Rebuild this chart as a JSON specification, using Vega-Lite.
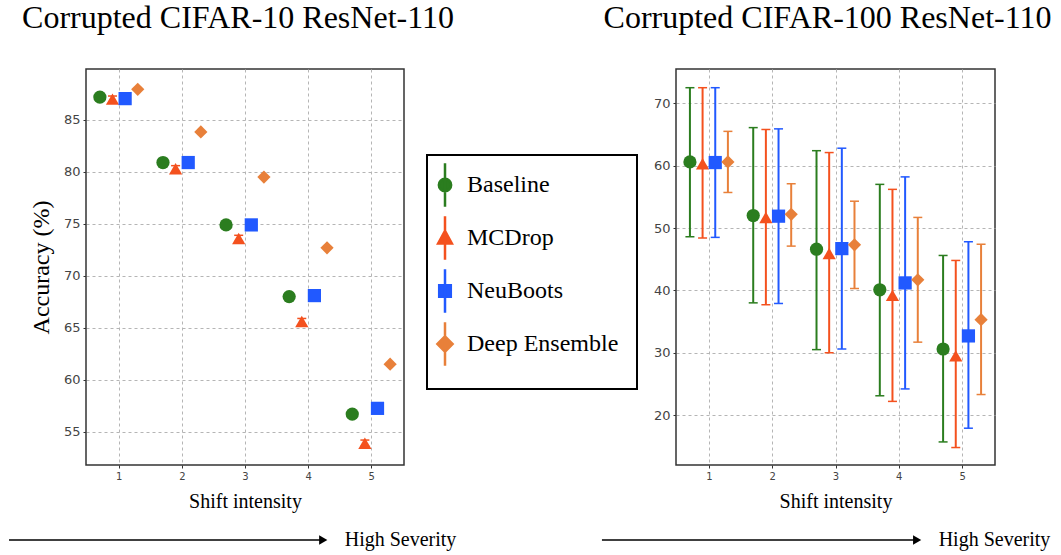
{
  "$schema": "https://vega.github.io/schema/vega-lite/v6.json",
  "autosize": {"type": "none"},
  "padding": {"left": 86, "top": 69, "right": 975, "bottom": 486},
  "background": "white",
  "bounds": "flush",
  "align": "each",
  "columns": 2,
  "spacing": {"row": 65, "column": 272},
  "config": {
    "view": {"stroke": "#333", "strokeWidth": 1.5},
    "axis": {
      "labelFont": "DejaVu Sans", "labelColor": "#444", "grid": true, "gridDash": [3, 3],
      "gridColor": "#b5b5b5", "gridWidth": 1, "domain": false, "tickColor": "#333",
      "tickSize": 3, "labelPadding": 3, "titleFont": "Liberation Serif",
      "titleFontWeight": "normal", "titleColor": "black"
    },
    "axisX": {"labelFontSize": 10, "titleFontSize": 20, "titlePadding": 10},
    "axisY": {"labelFontSize": 13, "titleFontSize": 24, "titlePadding": 10},
    "legend": {"labelFont": "Liberation Serif", "labelFontSize": 24, "labelColor": "black", "strokeColor": "black", "strokeWidth": 2},
    "title": {"font": "Liberation Serif", "fontSize": 32, "fontWeight": "normal", "color": "black", "baseline": "alphabetic", "offset": 34, "anchor": "middle"}
  },
  "concat": [
    {
      "title": {"text": "Corrupted CIFAR-10 ResNet-110", "dx": -7},
      "width": 318, "height": 396,
      "data": {"values": [
        {"method": "Baseline", "shift": 1, "pos": 0.7, "acc": 87.2, "lo": 87.2, "hi": 87.2},
        {"method": "Baseline", "shift": 2, "pos": 1.7, "acc": 80.9, "lo": 80.9, "hi": 80.9},
        {"method": "Baseline", "shift": 3, "pos": 2.7, "acc": 74.9, "lo": 74.9, "hi": 74.9},
        {"method": "Baseline", "shift": 4, "pos": 3.7, "acc": 68.0, "lo": 68.0, "hi": 68.0},
        {"method": "Baseline", "shift": 5, "pos": 4.7, "acc": 56.7, "lo": 56.7, "hi": 56.7},
        {"method": "MCDrop", "shift": 1, "pos": 0.9, "acc": 87.0, "lo": 86.7, "hi": 87.3},
        {"method": "MCDrop", "shift": 2, "pos": 1.9, "acc": 80.3, "lo": 80.0, "hi": 80.6},
        {"method": "MCDrop", "shift": 3, "pos": 2.9, "acc": 73.6, "lo": 73.3, "hi": 73.9},
        {"method": "MCDrop", "shift": 4, "pos": 3.9, "acc": 65.6, "lo": 65.3, "hi": 65.9},
        {"method": "MCDrop", "shift": 5, "pos": 4.9, "acc": 53.9, "lo": 53.6, "hi": 54.2},
        {"method": "NeuBoots", "shift": 1, "pos": 1.1, "acc": 87.05, "lo": 87.05, "hi": 87.05},
        {"method": "NeuBoots", "shift": 2, "pos": 2.1, "acc": 80.9, "lo": 80.9, "hi": 80.9},
        {"method": "NeuBoots", "shift": 3, "pos": 3.1, "acc": 74.9, "lo": 74.9, "hi": 74.9},
        {"method": "NeuBoots", "shift": 4, "pos": 4.1, "acc": 68.1, "lo": 68.1, "hi": 68.1},
        {"method": "NeuBoots", "shift": 5, "pos": 5.1, "acc": 57.25, "lo": 57.25, "hi": 57.25},
        {"method": "Deep Ensemble", "shift": 1, "pos": 1.3, "acc": 87.95, "lo": 87.95, "hi": 87.95},
        {"method": "Deep Ensemble", "shift": 2, "pos": 2.3, "acc": 83.85, "lo": 83.85, "hi": 83.85},
        {"method": "Deep Ensemble", "shift": 3, "pos": 3.3, "acc": 79.5, "lo": 79.5, "hi": 79.5},
        {"method": "Deep Ensemble", "shift": 4, "pos": 4.3, "acc": 72.7, "lo": 72.7, "hi": 72.7},
        {"method": "Deep Ensemble", "shift": 5, "pos": 5.3, "acc": 61.5, "lo": 61.5, "hi": 61.5}
      ]},
      "encoding": {
        "x": {"field": "pos", "type": "quantitative", "title": "Shift intensity",
              "scale": {"domain": [0.48, 5.52], "nice": false, "zero": false},
              "axis": {"values": [1, 2, 3, 4, 5], "format": "d"}},
        "y": {"field": "acc", "type": "quantitative", "title": "Accuracy (%)",
              "scale": {"domain": [51.8, 89.9], "nice": false, "zero": false},
              "axis": {"values": [55, 60, 65, 70, 75, 80, 85]}}
      },
      "layer": [
        {
          "transform": [{"filter": "datum.acc > 1000"}],
          "mark": {"type": "point", "opacity": 1, "strokeWidth": 2.5},
          "encoding": {
            "fill": {"field": "method", "type": "nominal",
              "scale": {"domain": ["Baseline", "MCDrop", "NeuBoots", "Deep Ensemble"], "range": ["#2b7d1f", "#f4511e", "#2159ff", "#e8803a"]},
              "legend": {"orient": "none", "legendX": 341, "legendY": 86, "title": null, "strokeColor": "black", "padding": 18, "symbolOffset": -12, "labelOffset": 10, "labelFont": "Liberation Serif", "labelFontSize": 24, "labelColor": "black", "symbolSize": 210, "symbolStrokeWidth": 2.5, "rowPadding": -1, "labelLimit": 400,
                "encode": {"legend": {"update": {"strokeWidth": {"value": 2}}}}}},
            "stroke": {"field": "method", "type": "nominal",
              "scale": {"domain": ["Baseline", "MCDrop", "NeuBoots", "Deep Ensemble"], "range": ["#2b7d1f", "#f4511e", "#2159ff", "#e8803a"]},
              "legend": {"orient": "none", "legendX": 341, "legendY": 86, "title": null, "strokeColor": "black", "padding": 18, "symbolOffset": -12, "labelOffset": 10, "labelFont": "Liberation Serif", "labelFontSize": 24, "labelColor": "black", "symbolSize": 210, "symbolStrokeWidth": 2.5, "rowPadding": -1, "labelLimit": 400,
                "encode": {"legend": {"update": {"strokeWidth": {"value": 2}}}}}},
            "shape": {"field": "method", "type": "nominal",
              "scale": {"domain": ["Baseline", "MCDrop", "NeuBoots", "Deep Ensemble"], "range": [
                "M0,-3L0,3M-0.85,0A0.85,0.85,0,1,1,0.85,0A0.85,0.85,0,1,1,-0.85,0Z",
                "M0,-3L0,3M-0.95,0.75L0.95,0.75L0,-1.0Z",
                "M0,-3L0,3M-0.8,-0.8L0.8,-0.8L0.8,0.8L-0.8,0.8Z",
                "M0,-3L0,3M0,-1.05L1.05,0L0,1.05L-1.05,0Z"]},
              "legend": {"orient": "none", "legendX": 341, "legendY": 86, "title": null, "strokeColor": "black", "padding": 18, "symbolOffset": -12, "labelOffset": 10, "labelFont": "Liberation Serif", "labelFontSize": 24, "labelColor": "black", "symbolSize": 210, "symbolStrokeWidth": 2.5, "rowPadding": -1, "labelLimit": 400,
                "encode": {"legend": {"update": {"strokeWidth": {"value": 2}}}}}}
          }
        },
        {
          "mark": {"type": "rule", "strokeWidth": 2},
          "encoding": {
            "y": {"field": "lo", "type": "quantitative"},
            "y2": {"field": "hi"},
            "color": {"field": "method", "type": "nominal", "legend": null,
              "scale": {"domain": ["Baseline", "MCDrop", "NeuBoots", "Deep Ensemble"], "range": ["#2b7d1f", "#f4511e", "#2159ff", "#e8803a"]}}
          }
        },
        {
          "mark": {"type": "tick", "orient": "horizontal", "size": 9, "thickness": 1.5, "opacity": 1},
          "encoding": {
            "y": {"field": "lo", "type": "quantitative"},
            "color": {"field": "method", "type": "nominal", "legend": null}
          }
        },
        {
          "mark": {"type": "tick", "orient": "horizontal", "size": 9, "thickness": 1.5, "opacity": 1},
          "encoding": {
            "y": {"field": "hi", "type": "quantitative"},
            "color": {"field": "method", "type": "nominal", "legend": null}
          }
        },
        {
          "mark": {"type": "point", "filled": true, "opacity": 1, "size": 175},
          "encoding": {
            "color": {"field": "method", "type": "nominal", "legend": null},
            "shape": {"field": "method", "type": "nominal", "legend": null,
              "scale": {"domain": ["Baseline", "MCDrop", "NeuBoots", "Deep Ensemble"], "range": ["circle", "triangle-up", "square", "diamond"]}}
          }
        }
      ],
      "resolve": {"scale": {"shape": "independent", "fill": "independent", "stroke": "independent"}}
    },
    {
      "title": {"text": "Corrupted CIFAR-100 ResNet-110", "dx": -8},
      "width": 319, "height": 396,
      "data": {"values": [
        {"method": "Baseline", "shift": 1, "pos": 0.7, "acc": 60.6, "lo": 48.6, "hi": 72.5},
        {"method": "Baseline", "shift": 2, "pos": 1.7, "acc": 52.0, "lo": 38.0, "hi": 66.1},
        {"method": "Baseline", "shift": 3, "pos": 2.7, "acc": 46.6, "lo": 30.5, "hi": 62.4},
        {"method": "Baseline", "shift": 4, "pos": 3.7, "acc": 40.1, "lo": 23.1, "hi": 57.0},
        {"method": "Baseline", "shift": 5, "pos": 4.7, "acc": 30.6, "lo": 15.7, "hi": 45.6},
        {"method": "MCDrop", "shift": 1, "pos": 0.9, "acc": 60.3, "lo": 48.4, "hi": 72.5},
        {"method": "MCDrop", "shift": 2, "pos": 1.9, "acc": 51.7, "lo": 37.7, "hi": 65.8},
        {"method": "MCDrop", "shift": 3, "pos": 2.9, "acc": 45.9, "lo": 30.0, "hi": 62.1},
        {"method": "MCDrop", "shift": 4, "pos": 3.9, "acc": 39.2, "lo": 22.2, "hi": 56.2},
        {"method": "MCDrop", "shift": 5, "pos": 4.9, "acc": 29.5, "lo": 14.8, "hi": 44.8},
        {"method": "NeuBoots", "shift": 1, "pos": 1.1, "acc": 60.5, "lo": 48.5, "hi": 72.5},
        {"method": "NeuBoots", "shift": 2, "pos": 2.1, "acc": 51.9, "lo": 37.9, "hi": 65.9},
        {"method": "NeuBoots", "shift": 3, "pos": 3.1, "acc": 46.7, "lo": 30.6, "hi": 62.8},
        {"method": "NeuBoots", "shift": 4, "pos": 4.1, "acc": 41.2, "lo": 24.2, "hi": 58.2},
        {"method": "NeuBoots", "shift": 5, "pos": 5.1, "acc": 32.7, "lo": 17.9, "hi": 47.8},
        {"method": "Deep Ensemble", "shift": 1, "pos": 1.3, "acc": 60.6, "lo": 55.7, "hi": 65.5},
        {"method": "Deep Ensemble", "shift": 2, "pos": 2.3, "acc": 52.2, "lo": 47.1, "hi": 57.1},
        {"method": "Deep Ensemble", "shift": 3, "pos": 3.3, "acc": 47.3, "lo": 40.3, "hi": 54.3},
        {"method": "Deep Ensemble", "shift": 4, "pos": 4.3, "acc": 41.7, "lo": 31.7, "hi": 51.7},
        {"method": "Deep Ensemble", "shift": 5, "pos": 5.3, "acc": 35.3, "lo": 23.3, "hi": 47.4}
      ]},
      "encoding": {
        "x": {"field": "pos", "type": "quantitative", "title": "Shift intensity",
              "scale": {"domain": [0.48, 5.52], "nice": false, "zero": false},
              "axis": {"values": [1, 2, 3, 4, 5], "format": "d"}},
        "y": {"field": "acc", "type": "quantitative", "title": null,
              "scale": {"domain": [12, 75.5], "nice": false, "zero": false},
              "axis": {"values": [20, 30, 40, 50, 60, 70]}},
        "color": {"field": "method", "type": "nominal", "legend": null,
          "scale": {"domain": ["Baseline", "MCDrop", "NeuBoots", "Deep Ensemble"], "range": ["#2b7d1f", "#f4511e", "#2159ff", "#e8803a"]}}
      },
      "layer": [
        {
          "mark": {"type": "rule", "strokeWidth": 2},
          "encoding": {"y": {"field": "lo", "type": "quantitative"}, "y2": {"field": "hi"}}
        },
        {
          "mark": {"type": "tick", "orient": "horizontal", "size": 9, "thickness": 1.5, "opacity": 1},
          "encoding": {"y": {"field": "lo", "type": "quantitative"}}
        },
        {
          "mark": {"type": "tick", "orient": "horizontal", "size": 9, "thickness": 1.5, "opacity": 1},
          "encoding": {"y": {"field": "hi", "type": "quantitative"}}
        },
        {
          "mark": {"type": "point", "filled": true, "opacity": 1, "size": 175},
          "encoding": {
            "shape": {"field": "method", "type": "nominal", "legend": null,
              "scale": {"domain": ["Baseline", "MCDrop", "NeuBoots", "Deep Ensemble"], "range": ["circle", "triangle-up", "square", "diamond"]}}
          }
        }
      ]
    },
    {
      "width": 318, "height": 20, "view": {"stroke": null},
      "data": {"values": [{"from": -0.74, "to": 4.24, "textAt": 4.58, "label": "High Severity"}]},
      "encoding": {
        "y": {"datum": 0, "type": "quantitative", "scale": {"domain": [-1, 1]}, "axis": null}
      },
      "layer": [
        {"mark": {"type": "rule", "color": "black", "strokeWidth": 1.5},
         "encoding": {"x": {"field": "from", "type": "quantitative", "scale": {"domain": [0.48, 5.52], "nice": false, "zero": false}, "axis": null}, "x2": {"field": "to"}}},
        {"mark": {"type": "point", "shape": "triangle-right", "filled": true, "color": "black", "opacity": 1, "size": 90},
         "encoding": {"x": {"field": "to", "type": "quantitative"}}},
        {"mark": {"type": "text", "align": "left", "baseline": "middle", "font": "Liberation Serif", "fontSize": 20, "color": "black"},
         "encoding": {"x": {"field": "textAt", "type": "quantitative"}, "text": {"field": "label"}}}
      ]
    },
    {
      "width": 319, "height": 20, "view": {"stroke": null},
      "data": {"values": [{"from": -0.69, "to": 4.29, "textAt": 4.63, "label": "High Severity"}]},
      "encoding": {
        "y": {"datum": 0, "type": "quantitative", "scale": {"domain": [-1, 1]}, "axis": null}
      },
      "layer": [
        {"mark": {"type": "rule", "color": "black", "strokeWidth": 1.5},
         "encoding": {"x": {"field": "from", "type": "quantitative", "scale": {"domain": [0.48, 5.52], "nice": false, "zero": false}, "axis": null}, "x2": {"field": "to"}}},
        {"mark": {"type": "point", "shape": "triangle-right", "filled": true, "color": "black", "opacity": 1, "size": 90},
         "encoding": {"x": {"field": "to", "type": "quantitative"}}},
        {"mark": {"type": "text", "align": "left", "baseline": "middle", "font": "Liberation Serif", "fontSize": 20, "color": "black"},
         "encoding": {"x": {"field": "textAt", "type": "quantitative"}, "text": {"field": "label"}}}
      ]
    }
  ]
}
